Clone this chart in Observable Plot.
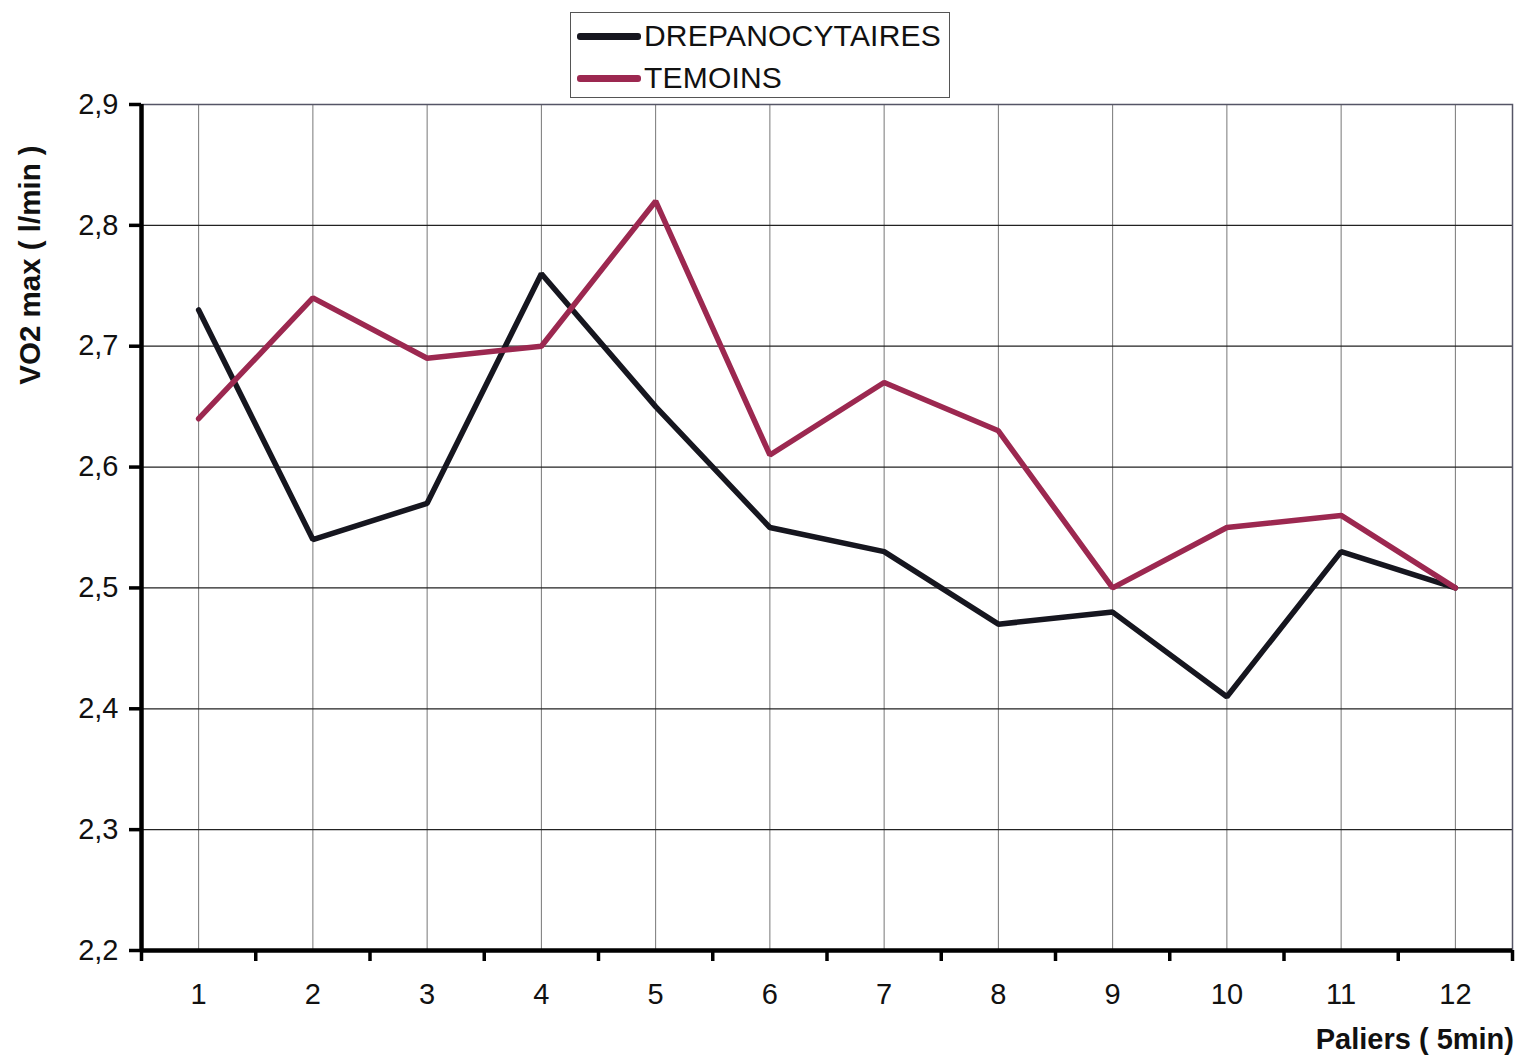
<!DOCTYPE html>
<html>
<head>
<meta charset="utf-8">
<script src="https://cdn.jsdelivr.net/npm/d3@7"></script>
<script src="https://cdn.jsdelivr.net/npm/@observablehq/plot@0.6"></script>
<style>
  html, body { margin: 0; padding: 0; background: #fff; }
  #wrap { position: relative; width: 1523px; height: 1059px; font-family: "Liberation Sans", Arial, sans-serif; }
  #legend { position: absolute; left: 570px; top: 12px; width: 378px; height: 84px; border: 1px solid #555; background: #fff; }
  .row { position: absolute; left: 6px; height: 40px; display: flex; align-items: center; }
  .sw { width: 64px; height: 7px; border-radius: 3px; margin-right: 3px; }
  .lab { font-size: 30px; letter-spacing: 0.2px; color: #111; }
</style>
</head>
<body>
<div id="wrap">
  <div id="chart"></div>
  <div id="legend"></div>
</div>
<script>
const categories = [1, 2, 3, 4, 5, 6, 7, 8, 9, 10, 11, 12];
const drepanocytaires = [2.73, 2.54, 2.57, 2.76, 2.65, 2.55, 2.53, 2.47, 2.48, 2.41, 2.53, 2.50];
const temoins = [2.64, 2.74, 2.69, 2.70, 2.82, 2.61, 2.67, 2.63, 2.50, 2.55, 2.56, 2.50];
const yTicks = [2.2, 2.3, 2.4, 2.5, 2.6, 2.7, 2.8, 2.9];
const seriesNames = ["DREPANOCYTAIRES", "TEMOINS"];
const seriesColors = ["#16161f", "#9c2850"];
const yLabel = "VO2 max ( l/min )";
const xLabel = "Paliers ( 5min)";

const rows = [];
categories.forEach((c, i) => {
  rows.push({palier: c, value: drepanocytaires[i], series: seriesNames[0]});
  rows.push({palier: c, value: temoins[i], series: seriesNames[1]});
});
const boundaries = [categories[0] - 0.5, ...categories.map(c => c + 0.5)];
const fmt = d => d3.format(".1f")(d).replace(".", ",");

const plot = Plot.plot({
  width: 1523,
  height: 1059,
  marginLeft: 141,
  marginRight: 11,
  marginTop: 104,
  marginBottom: 109,
  style: {fontFamily: "Liberation Sans, Arial, sans-serif", background: "#fff"},
  x: {type: "linear", domain: [boundaries[0], boundaries[boundaries.length - 1]]},
  y: {domain: [yTicks[0], yTicks[yTicks.length - 1]]},
  marks: [
    Plot.gridX(categories, {stroke: "#777", strokeOpacity: 1, strokeWidth: 1}),
    Plot.gridY(yTicks, {stroke: "#222", strokeOpacity: 1, strokeWidth: 1.2}),
    Plot.frame({stroke: "#556", strokeWidth: 1.5}),
    Plot.line(rows.filter(d => d.series === seriesNames[0]), {x: "palier", y: "value", stroke: seriesColors[0], strokeWidth: 5.5, strokeLinejoin: "miter"}),
    Plot.line(rows.filter(d => d.series === seriesNames[1]), {x: "palier", y: "value", stroke: seriesColors[1], strokeWidth: 5.5, strokeLinejoin: "miter"}),
    Plot.axisX({ticks: boundaries, tickSize: 11, strokeWidth: 3.5, tickFormat: () => "", label: null}),
    Plot.axisX({ticks: categories, tickSize: 0, tickPadding: 33, fontSize: 29, fill: "#111", tickFormat: d => String(d), label: null}),
    Plot.axisY({ticks: yTicks, tickSize: 12, tickPadding: 11, strokeWidth: 3.5, fontSize: 29, fill: "#111", tickFormat: fmt, label: null}),
    Plot.ruleX([boundaries[0]], {stroke: "#000", strokeWidth: 4.5}),
    Plot.ruleY([yTicks[0]], {stroke: "#000", strokeWidth: 4.5})
  ]
});
document.getElementById("chart").appendChild(plot);

// axis titles
const svg = d3.select(plot);
svg.append("text")
  .attr("transform", "translate(40,265) rotate(-90)")
  .attr("text-anchor", "middle")
  .attr("font-size", 29.5)
  .attr("font-weight", "bold")
  .attr("fill", "#111")
  .text(yLabel);
svg.append("text")
  .attr("x", 1514)
  .attr("y", 1049)
  .attr("text-anchor", "end")
  .attr("font-size", 29)
  .attr("font-weight", "bold")
  .attr("fill", "#111")
  .text(xLabel);

// legend
const legend = d3.select("#legend");
seriesNames.forEach((name, i) => {
  const r = legend.append("div").attr("class", "row").style("top", (3 + i * 42) + "px");
  r.append("div").attr("class", "sw").style("background", seriesColors[i]);
  r.append("div").attr("class", "lab").text(name);
});
</script>
</body>
</html>
